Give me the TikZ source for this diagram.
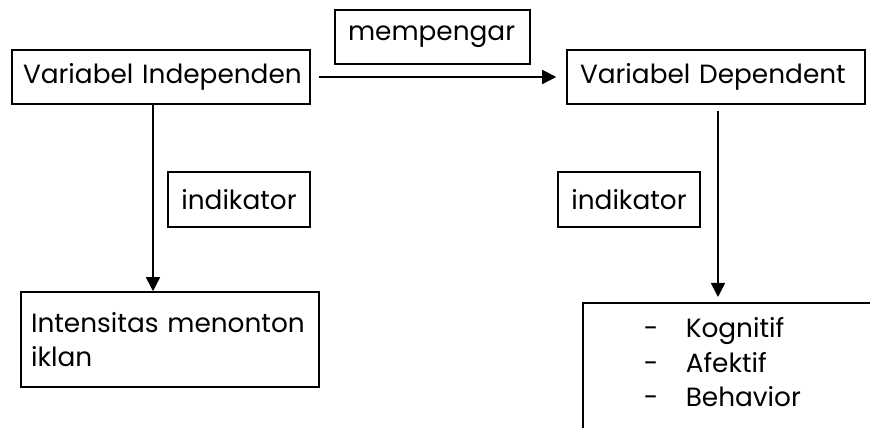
\documentclass[tikz,border=0pt]{standalone}
\usepackage{fontspec}
\setmainfont{Poppins}
\usetikzlibrary{arrows.meta,positioning}
\begin{document}
\begin{tikzpicture}
[x=0.02cm, y=-0.02cm,
mybox/.style={shape=rectangle,draw=black,line width=.9pt,inner sep=0pt,
font=\fontsize{15}{19.5}\selectfont},
varbox/.style={mybox,text width=5.48cm,inner xsep=.24cm,align=left,minimum height=1.08cm},
labbox/.style={mybox,minimum width=2.84cm,minimum height=1.1cm},
myedge/.style={-{Triangle[length=.28cm,width=.28cm]},line width=.9pt}]
\useasboundingbox (0,0) rectangle (870,428);
\clip (0,0) rectangle (870,428);
%%%%% variables
\node (indep) [varbox,inner xsep=.22cm,text width=5.52cm] at (161,77) {\mbox{Variabel Independen}};
\node (dep) [varbox,inner xsep=.26cm,text width=5.44cm] at (716,77) {\mbox{Variabel Dependent}};
\node (pengaruh) [mybox,text width=3.38cm,inner xsep=.26cm,align=left,minimum height=1.08cm]
at (432.5,37) {mempengar};
%% indicators
\node (indl) [labbox] at (239,199.5) {indikator};
\node (indr) [labbox] at (629,199.5) {indikator};
\node (intens) [varbox,inner xsep=.2cm,text width=5.56cm,minimum height=1.9cm] at (170,339.5)
{\mbox{Intensitas menonton}\\iklan};
\node (list) [mybox,anchor=north west,align=left,text width=4.36cm,inner xsep=1.22cm,
inner ysep=.3cm,text depth=3cm] at (582,302)
{\makebox[.84cm][l]{-}Kognitif\\\makebox[.84cm][l]{-}Afektif\\\makebox[.84cm][l]{-}Behavior};
%% edges
\draw[myedge,shorten <=.16cm,shorten >=.2cm] (indep) -- (dep);
\draw[myedge] ([xshift=-.16cm]indep.south) -- ([xshift=-.16cm]indep.south |- intens.north);
\draw[myedge,shorten <=.12cm,shorten >=.1cm] ([xshift=.04cm]dep.south)
-- ([xshift=.04cm]dep.south |- list.north);
\end{tikzpicture}
\end{document}
